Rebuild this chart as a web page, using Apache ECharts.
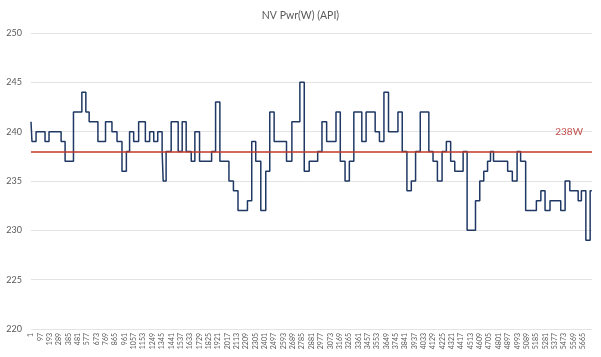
<!DOCTYPE html>
<html>
<head>
<meta charset="utf-8">
<script src="https://cdn.jsdelivr.net/npm/echarts@6/dist/echarts.min.js"></script>
<style>
html,body{margin:0;padding:0;background:#fff;}
#c{width:601px;height:357px;}
</style>
</head>
<body>
<div id="c"></div>
<script>
// Sample index (0-based) at which each power level starts
const sampleIdx = [0,10,52,144,185,309,350,436,522,563,597,687,765,831,883,934,979,1012,1054,1105,1174,1218,1260,1301,1346,1357,1387,1439,1511,1552,1593,1645,1682,1730,1854,1895,1939,2032,2078,2125,2222,2266,2307,2359,2410,2451,2496,2623,2678,2760,2805,2856,2943,2987,3035,3131,3175,3224,3268,3314,3396,3440,3533,3577,3623,3670,3767,3811,3859,3904,3948,3996,4084,4127,4172,4220,4264,4308,4350,4436,4477,4563,4607,4648,4687,4717,4748,4893,4941,4990,5026,5078,5188,5234,5277,5328,5438,5483,5531,5617,5650,5696,5740,5757];
// Power (W) held from that sample on
const powerW = [241,239,240,239,240,239,237,242,244,242,241,239,241,240,239,236,238,240,239,241,239,240,239,240,238,235,238,241,238,241,238,237,240,237,238,243,237,235,234,232,233,239,237,232,236,242,239,237,241,245,236,237,238,241,239,242,237,235,237,242,239,242,240,239,244,240,242,238,234,235,238,242,238,237,235,238,239,237,236,238,230,233,235,236,237,238,237,236,235,238,237,232,233,234,232,233,232,235,234,233,234,229,234,234];
const refValue = 238;
const refLabel = '238W';
const titleText = 'NV Pwr(W) (API)';
const yTicks = {min:220, max:250, step:5};
const xTicks = {min:0, max:5759, step:96};

const FONT = 'Lato';
const chart = echarts.init(document.getElementById('c'));
chart.setOption({
  animation:false,
  backgroundColor:'#ffffff',
  textStyle:{fontFamily:FONT},
  title:{text:titleText,left:'center',top:5,textStyle:{fontFamily:FONT,fontSize:10.5,fontWeight:'normal',color:'#595959'}},
  grid:{left:31,right:9,top:33,bottom:28,containLabel:false},
  xAxis:{type:'value',min:xTicks.min,max:xTicks.max,interval:xTicks.step,
    axisLine:{show:false},axisTick:{show:false},splitLine:{show:false},
    axisLabel:{rotate:90,fontSize:7,color:'#595959',margin:4,showMaxLabel:false,fontFamily:FONT,
      formatter:v=>String(v+1)}},
  yAxis:{type:'value',min:yTicks.min,max:yTicks.max,interval:yTicks.step,
    axisLine:{show:false},axisTick:{show:false},
    splitLine:{lineStyle:{color:'#e3e3e3',width:1}},
    axisLabel:{fontSize:9,color:'#595959',margin:9,fontFamily:FONT}},
  series:[{
    type:'line',step:'end',symbol:'none',
    data:sampleIdx.map((x,i)=>[x,powerW[i]]),
    lineStyle:{color:'#1f3864',width:1.5},
    markLine:{silent:true,symbol:'none',
      lineStyle:{color:'#c0392b',width:1.5,type:'solid'},
      label:{show:true,position:'insideEndTop',formatter:refLabel,color:'#c0504d',fontSize:10,fontFamily:FONT,distance:[9,15]},
      data:[{yAxis:refValue}]}
  }]
});
</script>
</body>
</html>
